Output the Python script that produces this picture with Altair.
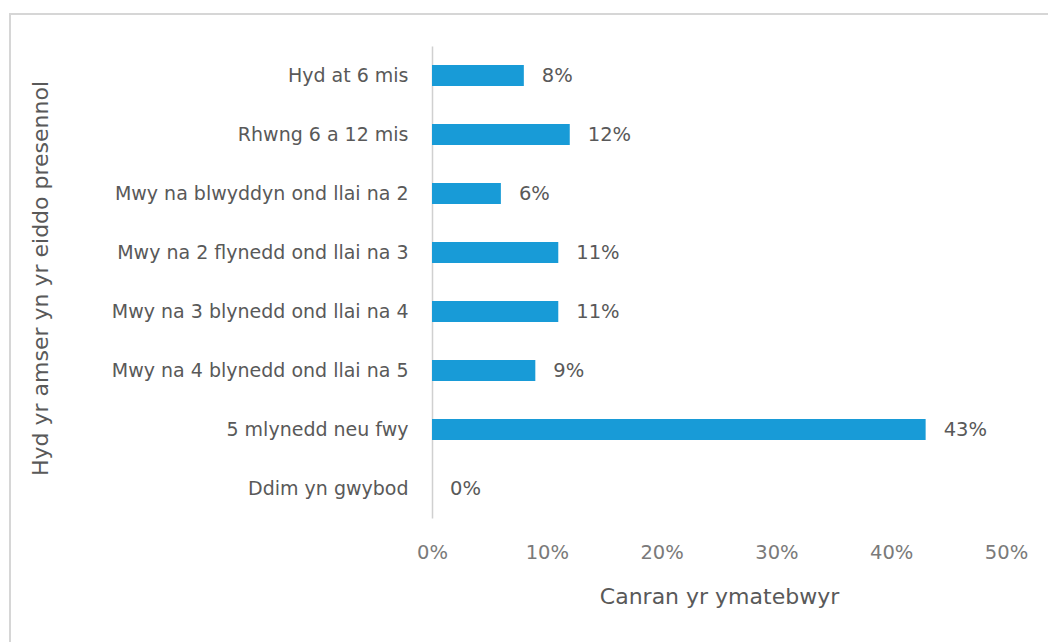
import altair as alt
import pandas as pd

categories = [
    "Hyd at 6 mis",
    "Rhwng 6 a 12 mis",
    "Mwy na blwyddyn ond llai na 2",
    "Mwy na 2 flynedd ond llai na 3",
    "Mwy na 3 blynedd ond llai na 4",
    "Mwy na 4 blynedd ond llai na 5",
    "5 mlynedd neu fwy",
    "Ddim yn gwybod",
]
values = [0.08, 0.12, 0.06, 0.11, 0.11, 0.09, 0.43, 0.0]
labels = ["8%", "12%", "6%", "11%", "11%", "9%", "43%", "0%"]

df = pd.DataFrame({"cat": categories, "val": values, "lab": labels})

FONT = "DejaVu Sans"
PL, PT = 432, 46
W, H = 574, 472

y_enc = alt.Y("cat:N", sort=categories,
              scale=alt.Scale(paddingInner=0.64, paddingOuter=0.32),
              axis=alt.Axis(title="Hyd yr amser yn yr eiddo presennol",
                            titleFontSize=22, titleFont=FONT, titleColor="#595959",
                            titleFontWeight="normal", titleX=40 - PL, titleY=H / 2 - 4,
                            titleAngle=-90, titleBaseline="middle", titleAlign="center",
                            labelFont=FONT, labelFontSize=19, labelColor="#595959",
                            labelPadding=24, ticks=False, domain=True,
                            domainColor="#d0d0d0", domainWidth=1.5, labelLimit=420))

x_enc = alt.X("val:Q", scale=alt.Scale(domain=[0, 0.5]),
              axis=alt.Axis(title="Canran yr ymatebwyr", format=".0%", values=[0, .1, .2, .3, .4, .5],
                            grid=False, domain=False, ticks=False, labelFlush=False, labelOverlap=False,
                            labelFont=FONT, labelFontSize=19.5, labelColor="#7a7a7a",
                            labelPadding=25, titleFont=FONT, titleFontSize=22,
                            titleColor="#595959", titleFontWeight="normal", titlePadding=25))

bars = alt.Chart(df).mark_bar(color="#189bd7").encode(y=y_enc, x=x_enc)

text = alt.Chart(df).mark_text(align="left", dx=18, font=FONT, fontSize=19.5, color="#595959").encode(
    y=alt.Y("cat:N", sort=categories), x="val:Q", text="lab:N")

border = alt.Chart(pd.DataFrame({"a": [0]})).mark_rect(
    fill=None, stroke="#d6d6d6", strokeWidth=2).encode(
    x=alt.value(10 - PL), x2=alt.value(1060 - PL),
    y=alt.value(14 - PT), y2=alt.value(660 - PT))

chart = alt.layer(border, bars, text).properties(
    width=W, height=H,
    autosize=alt.AutoSizeParams(type="none"),
    padding={"left": PL, "top": PT, "right": 1048 - PL - W, "bottom": 642 - PT - H},
).configure(background="white", view=alt.ViewConfig(stroke=None))

chart.save("out.html", embed_options={"renderer": "svg", "actions": False})
